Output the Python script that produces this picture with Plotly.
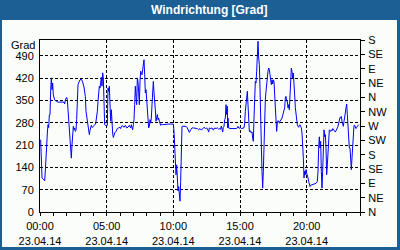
import plotly.graph_objects as go

# time of day in hours (23.04.14) and wind direction in degrees
hours = [
    0.05, 0.10, 0.15, 0.25, 0.35, 0.40, 0.45, 0.55, 0.60, 0.65, 0.70, 0.75, 0.80, 0.85, 0.90, 0.95,
    1.00, 1.10, 1.22, 1.35, 1.80, 1.85, 1.90, 2.00, 2.05, 2.10, 2.20, 2.25, 2.30, 2.35, 2.40, 2.45,
    2.50, 2.55, 2.60, 2.65, 2.70, 2.75, 2.80, 2.85, 2.90, 3.00, 3.10, 3.20, 3.30, 3.40, 3.45, 3.55,
    3.60, 3.65, 3.70, 3.75, 3.80, 3.85, 3.90, 3.95, 4.00, 4.10, 4.15, 4.20, 4.25, 4.30, 4.35, 4.40,
    4.45, 4.50, 4.55, 4.60, 4.65, 4.70, 4.75, 4.80, 4.85, 4.90, 5.00, 5.05,
    5.10, 5.15, 5.20, 5.25, 5.30, 5.35, 5.40, 5.45, 5.50, 5.55, 5.60, 5.70, 5.80, 5.90, 6.00, 6.05,
    6.10, 6.20, 6.30, 6.40, 6.50, 6.60, 6.70, 6.80, 6.85, 6.90, 6.95, 7.00, 7.05, 7.10, 7.15, 7.20,
    7.25, 7.30, 7.35, 7.40, 7.45, 7.50, 7.55, 7.60, 7.65, 7.70, 7.75, 7.80, 7.85, 7.90, 7.95, 8.00,
    8.05, 8.10, 8.15, 8.20, 8.25, 8.30, 8.35, 8.40, 8.45, 8.50, 8.55, 8.60, 8.65, 8.70, 8.75, 8.80,
    8.85, 8.90, 8.95, 9.00, 9.05, 9.10, 9.20, 9.60, 9.90,
    10.00, 10.05, 10.10, 10.15, 10.20, 10.25, 10.30, 10.35, 10.40, 10.45, 10.50, 10.55, 10.60, 10.65,
    10.70, 10.82, 10.95, 11.05, 11.10, 11.20, 11.30, 11.40, 11.50, 11.65, 11.80, 11.90, 12.00, 12.10,
    12.20, 12.30, 12.40, 12.50, 12.60, 12.65, 12.70, 12.80, 12.90, 13.00, 13.10, 13.20, 13.30, 13.40,
    13.50, 13.55, 13.60, 13.65, 13.70, 13.75, 13.80, 13.85, 13.90, 13.95, 14.00, 14.05, 14.07, 14.10,
    14.15, 14.25,
    14.75, 14.80, 14.85, 14.90, 14.95, 15.00, 15.05, 15.10, 15.30, 15.35, 15.40, 15.45, 15.50, 15.55,
    15.60, 15.65, 15.70, 15.75, 15.80, 15.85, 15.90, 15.95, 16.00, 16.05, 16.10, 16.15, 16.20, 16.25,
    16.30, 16.35, 16.40, 16.45, 16.50, 16.55, 16.60, 16.65, 16.70, 16.75, 16.80, 16.85, 16.90, 16.95,
    17.00, 17.05, 17.10, 17.15, 17.20, 17.25, 17.30, 17.35, 17.40, 17.45, 17.50, 17.55, 17.60, 17.65,
    17.70, 17.75, 17.80, 17.85, 17.90, 17.95, 18.00, 18.05, 18.15, 18.25, 18.35, 18.40, 18.45, 18.50,
    18.55, 18.60, 18.65, 18.70, 18.75, 18.80, 18.85, 18.90, 18.95, 19.00, 19.05, 19.10, 19.15, 19.20,
    19.25, 19.30,
    19.35, 19.40, 19.45, 19.50, 19.55, 19.60, 19.65, 19.70, 19.75, 19.80, 19.85, 19.90, 19.95, 20.00,
    20.05, 20.10, 20.15, 20.20, 20.25, 20.30, 20.40, 20.50, 20.60, 20.70, 20.80, 20.85, 20.90, 20.95,
    21.00, 21.05, 21.10, 21.15, 21.20, 21.25, 21.30, 21.35, 21.40, 21.45, 21.50, 21.55, 21.60, 21.65,
    21.70, 21.75, 21.80, 21.85, 21.90, 21.95, 22.00, 22.05, 22.10, 22.15, 22.20, 22.25, 22.30, 22.35,
    22.40, 22.45, 22.50, 22.55, 22.60, 22.65, 22.70, 22.75, 22.80, 22.85, 22.90, 22.95, 23.00, 23.05,
    23.10, 23.15, 23.20, 23.25, 23.30, 23.35, 23.40, 23.45, 23.50, 23.55, 23.60, 23.65, 23.70, 23.75,
    23.80, 23.85, 23.90,
]
degrees = [
    227, 143, 107, 103, 98, 129, 191, 248, 274, 265, 305, 305, 380, 421, 384, 405,
    368, 352, 348, 345, 345, 339, 352, 360, 352, 321, 264, 232, 190, 169, 211, 243,
    269, 258, 264, 253, 258, 290, 363, 400, 405, 415, 417, 408, 392, 363, 316, 280,
    270, 248, 243, 256, 269, 272, 266, 266, 269, 274, 276, 285, 295, 316, 347, 368,
    395, 389, 421, 423, 395, 437, 421, 311, 274, 272, 272, 272,
    389, 379, 395, 327, 285, 321, 274, 248, 234, 243, 248, 253, 262, 264, 266, 262,
    269, 271, 266, 272, 264, 266, 272, 264, 274, 264, 258, 274, 290, 337, 395, 363,
    337, 421, 410, 374, 337, 410, 442, 436, 431, 447, 457, 478, 431, 374, 384, 353,
    300, 274, 264, 269, 290, 279, 295, 337, 389, 410, 374, 353, 321, 285, 295, 306,
    290, 295, 285, 279, 272, 276, 274, 276, 276,
    276, 253, 211, 148, 117, 148, 96, 66, 80, 59, 34, 96, 211, 269,
    269, 270, 269, 264, 258, 250, 258, 264, 264, 264, 262, 258, 262, 257,
    262, 266, 262, 264, 257, 251, 264, 262, 264, 257, 264, 262, 264, 260,
    262, 260, 270, 264, 251, 266, 269, 290, 295, 337, 306, 332, 264, 295,
    264, 262,
    262, 266, 269, 264, 262, 266, 264, 262, 264, 279, 316, 348, 353, 379,
    337, 258, 253, 251, 255, 248, 251, 232, 222, 295, 353, 410, 405, 442,
    484, 536, 484, 463, 389, 211, 211, 128, 75, 128, 222, 285, 353, 379,
    405, 431, 442, 452, 447, 431, 410, 400, 415, 402, 415, 410, 368, 321,
    264, 253, 279, 287, 285, 279, 285, 290, 295, 311, 327, 358, 363, 348,
    348, 327, 337, 321, 379, 410, 452, 442, 421, 436, 410, 368, 327, 306,
    285, 274,
    269, 266, 272, 274, 269, 264, 248, 217, 170, 107, 128, 117, 133, 122,
    117, 107, 96, 86, 80, 84, 86, 86, 88, 90, 96, 128, 201, 236,
    201, 222, 128, 75, 128, 222, 258, 236, 243, 201, 117, 148, 201, 236,
    258, 255, 253, 258, 255, 262, 258, 255, 253, 251, 255, 258, 264, 269,
    279, 290, 297, 295, 300, 285, 272, 269, 285, 295, 311, 327, 339, 306,
    274, 211, 201, 201, 170, 133, 170, 211, 253, 272, 272, 264, 262, 266,
    269, 272, 274,
]

x_tick_hours = [0, 5, 10, 15, 20]
x_tick_text = ["00:00<br>23.04.14", "05:00<br>23.04.14", "10:00<br>23.04.14",
               "15:00<br>23.04.14", "20:00<br>23.04.14"]
y_tick_vals = [0, 70, 140, 210, 280, 350, 420, 490]
compass_vals = [0, 45, 90, 135, 180, 225, 270, 315, 360, 405, 450, 495, 540]
compass_text = ["N", "NE", "E", "SE", "S", "SW", "W", "NW", "N", "NE", "E", "SE", "S"]

title_text = "Windrichtung [Grad]"
unit_text = "Grad"

FONT = "Liberation Sans, Arial, sans-serif"
BLUE_FRAME = "#1c5f95"
BG = "#fbfdfb"

fig = go.Figure()
fig.add_trace(go.Scatter(x=hours, y=degrees, mode="lines",
                         line=dict(color="#0000ff", width=1),
                         showlegend=False, hoverinfo="skip"))
fig.add_trace(go.Scatter(x=[], y=[], yaxis="y2", mode="lines",
                         showlegend=False, hoverinfo="skip"))

# plot area: x 40..360 px, y 40..212 px
def px_x(x):
    return (x - 40) / 320.0

def px_y(y):
    return (212 - y) / 172.0

fig.update_layout(
    width=400, height=250,
    margin=dict(l=40, r=40, t=40, b=38, pad=0, autoexpand=False),
    paper_bgcolor=BLUE_FRAME,
    plot_bgcolor=BG,
    font=dict(family=FONT, size=11, color="black"),
    xaxis=dict(range=[0, 24], tickmode="array", tickvals=x_tick_hours, ticktext=x_tick_text,
               showgrid=True, gridcolor="black", gridwidth=1, griddash="3px,2px",
               showline=True, linecolor="black", linewidth=1, mirror=True,
               ticks="outside", ticklen=3, tickcolor="black", tickwidth=1,
               ticklabelstandoff=1, automargin=False,
               minor=dict(tickmode="linear", tick0=0, dtick=1, ticks="outside",
                          ticklen=3, tickcolor="black", showgrid=False),
               zeroline=False, fixedrange=True,
               tickfont=dict(family=FONT, size=11, color="black")),
    yaxis=dict(range=[0, 540], tickmode="array", tickvals=y_tick_vals,
               showgrid=True, gridcolor="black", gridwidth=1, griddash="3px,2px",
               showline=True, linecolor="black", linewidth=1, automargin=False,
               ticks="", zeroline=False, fixedrange=True, ticklabelstandoff=3,
               tickfont=dict(family=FONT, size=11, color="black")),
    yaxis2=dict(range=[0, 540], overlaying="y", side="right", tickmode="array",
                tickvals=compass_vals, ticktext=compass_text, automargin=False,
                showgrid=False, showline=True, linecolor="black", linewidth=1,
                ticks="outside", ticklen=4, tickcolor="black", zeroline=False,
                fixedrange=True, ticklabelstandoff=1,
                tickfont=dict(family=FONT, size=11, color="black")),
    shapes=[dict(type="rect", xref="paper", yref="paper", layer="below",
                 x0=px_x(2), x1=px_x(397), y0=px_y(247), y1=px_y(20),
                 fillcolor=BG, line=dict(width=0))],
    annotations=[
        dict(text="<b>" + title_text + "</b>", xref="paper", yref="paper",
             x=px_x(209.5), y=px_y(10), xanchor="center", yanchor="middle",
             showarrow=False, font=dict(family=FONT, size=12, color="white")),
        dict(text=unit_text, xref="paper", yref="paper",
             x=px_x(37), y=px_y(44.5), xanchor="right", yanchor="middle",
             showarrow=False, font=dict(family=FONT, size=11, color="black")),
    ],
)

fig.write_html("out.html")
